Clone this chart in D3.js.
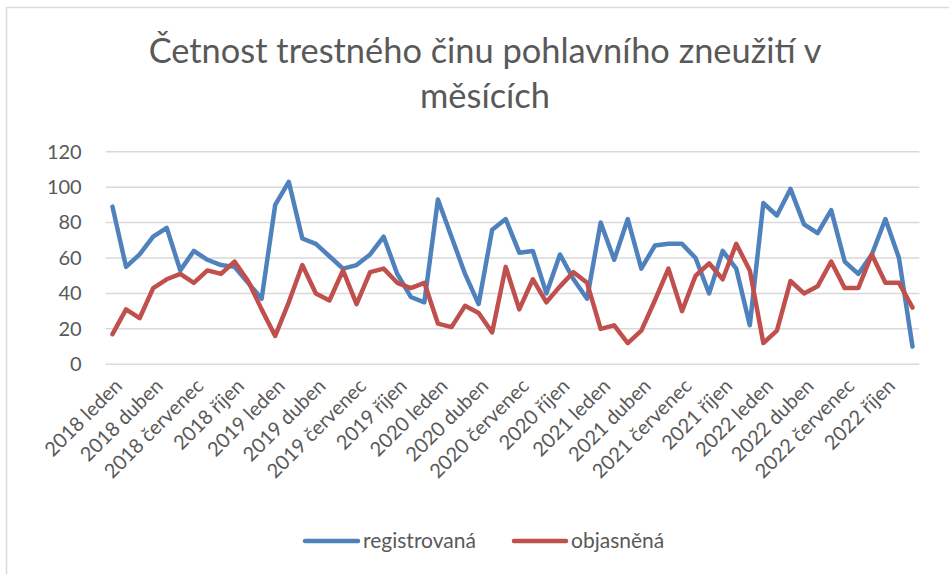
<!DOCTYPE html>
<html>
<head>
<meta charset="utf-8">
<script src="https://cdn.jsdelivr.net/npm/d3@7"></script>
<style>
  html, body { margin: 0; padding: 0; background: #fff; }
  svg { display: block; }
  text { font-family: Lato, "Open Sans", "Liberation Sans", sans-serif; fill: #595959; }
</style>
</head>
<body>
<svg id="chart" width="949" height="574"></svg>
<script>
const years = [2018, 2019, 2020, 2021, 2022];
const months = ["leden","únor","březen","duben","květen","červen","červenec","srpen","září","říjen","listopad","prosinec"];
const categories = years.flatMap(y => months.map(m => y + " " + m));

const registrovana = [
  89, 55, 62, 72, 77, 53, 64, 59, 56, 55, 46, 37,
  90, 103, 71, 68, 61, 54, 56, 62, 72, 51, 38, 35,
  93, 72, 51, 34, 76, 82, 63, 64, 40, 62, 48, 37,
  80, 59, 82, 54, 67, 68, 68, 60, 40, 64, 54, 22,
  91, 84, 99, 79, 74, 87, 58, 51, 62, 82, 60, 10
];
const objasnena = [
  17, 31, 26, 43, 48, 51, 46, 53, 51, 58, 47, 31,
  16, 35, 56, 40, 36, 53, 34, 52, 54, 46, 43, 46,
  23, 21, 33, 29, 18, 55, 31, 48, 35, 44, 52, 46,
  20, 22, 12, 19, 36, 54, 30, 50, 57, 48, 68, 53,
  12, 19, 47, 40, 44, 58, 43, 43, 62, 46, 46, 32
];
const yTicks = [0, 20, 40, 60, 80, 100, 120];
const titleLines = ["Četnost trestného činu pohlavního zneužití v", "měsících"];
const seriesNames = ["registrovaná", "objasněná"];
const seriesColors = ["#4f81bd", "#c0504d"];

const svg = d3.select("#chart");

// chart border (top and left visible)
svg.append("line").attr("x1", 6.5).attr("x2", 949).attr("y1", 7.5).attr("y2", 7.5)
  .attr("stroke", "#d9d9d9").attr("stroke-width", 1.5);
svg.append("line").attr("x1", 6.5).attr("x2", 6.5).attr("y1", 7.5).attr("y2", 574)
  .attr("stroke", "#d9d9d9").attr("stroke-width", 1.5);

const plot = { left: 105.7, right: 919.3, top: 151.7, bottom: 364.3 };

const x = d3.scaleBand().domain(categories).range([plot.left, plot.right]).paddingInner(0).paddingOuter(0);
const xc = d => x(d) + x.bandwidth() / 2;
const y = d3.scaleLinear().domain([0, 120]).range([plot.bottom, plot.top]);

// gridlines
const grid = svg.append("g");
grid.selectAll("line").data(yTicks).join("line")
  .attr("x1", plot.left).attr("x2", plot.right)
  .attr("y1", d => y(d)).attr("y2", d => y(d))
  .attr("stroke", "#d9d9d9").attr("stroke-width", 1.5);

// y axis
const yAxis = svg.append("g").attr("transform", `translate(${plot.left},0)`)
  .call(d3.axisLeft(y).tickValues(yTicks).tickSize(0).tickPadding(24));
yAxis.select(".domain").remove();
yAxis.selectAll("text").style("font-size", "20px").attr("fill", "#595959")
  .style("font-family", "Lato, 'Open Sans', sans-serif");

// x axis
const labelCats = categories.filter((d, i) => i % 3 === 0);
const xAxis = svg.append("g").attr("transform", `translate(0,${plot.bottom})`)
  .call(d3.axisBottom(x).tickValues(labelCats).tickSize(0).tickFormat(d => d));
xAxis.select(".domain").remove();
xAxis.selectAll("text")
  .style("font-size", "20px").attr("fill", "#595959")
  .style("font-family", "Lato, 'Open Sans', sans-serif")
  .attr("text-anchor", "end")
  .attr("dy", "0.35em")
  .attr("y", 0)
  .attr("transform", "translate(6,18) rotate(-45)");

// lines
const series = [registrovana, objasnena];
const lineGen = d3.line().x((d, i) => xc(categories[i])).y(d => y(d));
series.forEach((s, k) => {
  svg.append("path").datum(s)
    .attr("fill", "none")
    .attr("stroke", seriesColors[k])
    .attr("stroke-width", 4.5)
    .attr("stroke-linejoin", "round")
    .attr("stroke-linecap", "round")
    .attr("d", lineGen);
});

// title
const title = svg.append("g");
const tl = title.selectAll("text").data(titleLines).join("text")
  .attr("x", 485).attr("y", (d, i) => 63 + i * 45)
  .attr("text-anchor", "middle")
  .style("font-size", "30px")
  .text(d => d);
// fit first line width to ~673px
const w0 = tl.nodes()[0].getComputedTextLength();
const fs = 30 * 673 / w0;
tl.style("font-size", fs + "px");

// legend
const legendItems = [
  { name: seriesNames[0], color: seriesColors[0], x1: 305, x2: 358, tx: 363 },
  { name: seriesNames[1], color: seriesColors[1], x1: 514, x2: 566, tx: 571 }
];
const lg = svg.append("g");
legendItems.forEach(it => {
  lg.append("line").attr("x1", it.x1).attr("x2", it.x2).attr("y1", 541).attr("y2", 541)
    .attr("stroke", it.color).attr("stroke-width", 4.5).attr("stroke-linecap", "round");
  lg.append("text").attr("x", it.tx).attr("y", 541).attr("dy", "0.35em")
    .style("font-size", "21px").text(it.name);
});
</script>
</body>
</html>
